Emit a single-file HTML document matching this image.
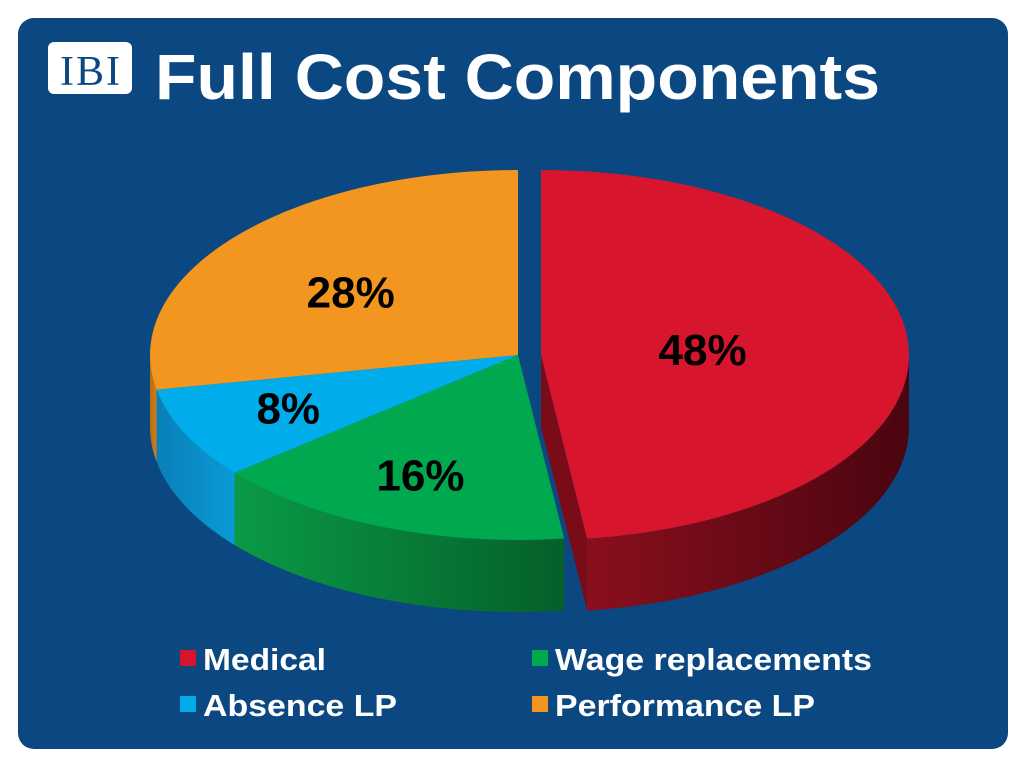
<!DOCTYPE html>
<html><head><meta charset="utf-8"><style>
body{margin:0;background:#fff;width:1024px;height:768px;overflow:hidden;font-family:"Liberation Sans",sans-serif}
</style></head><body>
<svg width="1024" height="768">
<defs>
<linearGradient id="gRed" x1="0" x2="1"><stop offset="0" stop-color="#8a0f1d"/><stop offset="1" stop-color="#4a0510"/></linearGradient>
<linearGradient id="gGreen" x1="0" x2="1"><stop offset="0" stop-color="#0a9a47"/><stop offset="1" stop-color="#055f2a"/></linearGradient>
<linearGradient id="gBlue" x1="0" x2="1"><stop offset="0" stop-color="#0a7fb8"/><stop offset="1" stop-color="#0a9ad6"/></linearGradient>
<linearGradient id="gOrange" x1="0" x2="1"><stop offset="0" stop-color="#b86a12"/><stop offset="1" stop-color="#d07e18"/></linearGradient>
</defs>
<rect x="18" y="18" width="990" height="731" rx="16" fill="#0b4780"/>
<rect x="48" y="42" width="84" height="52" rx="6" fill="#fff"/>
<text x="90" y="85" text-anchor="middle" font-family="Liberation Serif,serif" font-size="42" fill="#0b4780" textLength="60">IBI</text>
<text x="155" y="99" font-size="64" font-weight="bold" fill="#fff" textLength="725" lengthAdjust="spacingAndGlyphs">Full Cost Components</text>
<g id="pie"></g>
<g id="legend"></g>
</svg>
<script>
const categories=["Medical","Wage replacements","Absence LP","Performance LP"];
const values=[48,16,8,28];
const labels=["48%","16%","8%","28%"];
const topColors=["#d7152d","#00a84f","#00adea","#f3961f"];
const wallFills=["url(#gRed)","url(#gGreen)","url(#gBlue)","url(#gOrange)"];
const labelFx=[0.44,0.72,0.69,0.59];
const labelFy=[0.44,0.70,0.68,0.53];
const legendLen=[123,317,194,260];
const NS="http://www.w3.org/2000/svg";
const cx=518,cy=355,rx=368,ry=185,depth=72;
const pie=document.getElementById('pie');
const total=values.reduce((a,b)=>a+b,0);
function pt(a,ox,oy,d){const r=a*Math.PI/180;return [cx+ox+rx*Math.sin(r),cy+oy-ry*Math.cos(r)+(d||0)];}
function arcPts(a,b,ox,oy,d){const n=Math.max(2,Math.ceil(Math.abs(b-a)/2));const p=[];for(let i=0;i<=n;i++)p.push(pt(a+(b-a)*i/n,ox,oy,d));return p;}
function mk(tag,attrs){const e=document.createElementNS(NS,tag);for(const k in attrs)e.setAttribute(k,attrs[k]);pie.appendChild(e);return e;}
let acc=0;const slices=[];
values.forEach((v,i)=>{const a1=acc/total*360;acc+=v;const a2=acc/total*360;
 const ex=i===0?23:0;
 slices.push({a1,a2,ox:ex,oy:0,i});});
const s0=slices[0];
{const c=[cx+s0.ox,cy],e=pt(s0.a2,s0.ox,0);
 const f=mk('path',{d:`M${c[0]},${c[1]}L${e[0]},${e[1]}L${e[0]},${e[1]+depth}L${c[0]},${c[1]+depth}Z`,fill:'#7a0c19'});
 }
slices.forEach(s=>{const a=Math.max(s.a1,90),b=Math.min(s.a2,270);if(b<=a)return;
 const top=arcPts(a,b,s.ox,0,0),bot=arcPts(b,a,s.ox,0,depth);
 const w=mk('path',{d:'M'+top.concat(bot).map(p=>p.join(',')).join('L')+'Z',fill:wallFills[s.i]});
 
 });
slices.forEach(s=>{const p=arcPts(s.a1,s.a2,s.ox,0,0);
 const t=mk('path',{d:`M${cx+s.ox},${cy}L`+p.map(q=>q.join(',')).join('L')+'Z',fill:topColors[s.i]});
 
 });
slices.forEach(s=>{const m=(s.a1+s.a2)/2;const r=m*Math.PI/180;
 const x=cx+s.ox+rx*labelFx[s.i]*Math.sin(r),y=cy-ry*labelFy[s.i]*Math.cos(r)+15;
 const t=mk('text',{x:x,y:y,'text-anchor':'middle','font-size':'44','font-weight':'bold',fill:'#000'});
 t.textContent=labels[s.i];
 
 });
const lg=document.getElementById('legend');
const lx=[180,532],ly=[650,696];
categories.forEach((c,i)=>{const col=i===0||i===2?0:1,row=i<2?0:1;const x=lx[col],y=ly[row];
 const r=document.createElementNS(NS,'rect');r.setAttribute('x',x);r.setAttribute('y',y);r.setAttribute('width',16);r.setAttribute('height',16);r.setAttribute('fill',topColors[i]);
 
 lg.appendChild(r);
 const t=document.createElementNS(NS,'text');t.setAttribute('x',x+23);t.setAttribute('y',y+20);t.setAttribute('font-size','31');t.setAttribute('font-weight','bold');t.setAttribute('fill','#fff');
 t.setAttribute('textLength',legendLen[i]);t.setAttribute('lengthAdjust','spacingAndGlyphs');t.textContent=c;
 
 lg.appendChild(t);});
</script>
</body></html>
